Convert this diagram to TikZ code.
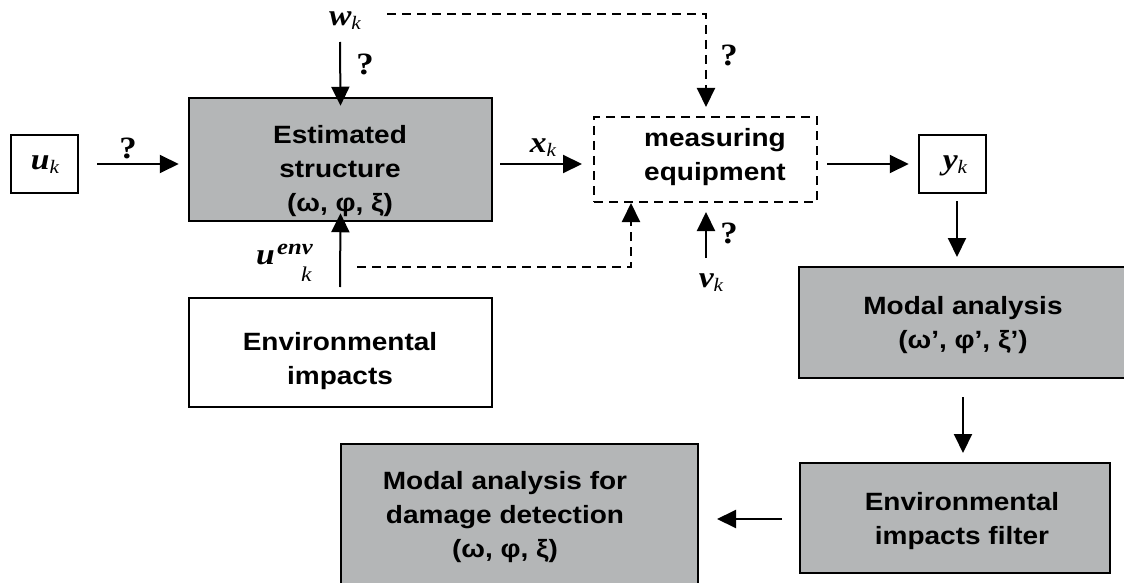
\documentclass[tikz,border=0pt]{standalone}
\usepackage{fontspec}
\setmainfont[FakeStretch=1.12]{Liberation Sans}
\newfontfamily\serf[FakeStretch=1.12]{Liberation Serif}
\usetikzlibrary{arrows.meta}
\definecolor{boxgray}{RGB}{180,182,183}
\tikzset{
  gbox/.style={draw, line width=2.5pt, fill=boxgray, inner sep=0pt},
  wbox/.style={draw, line width=2.5pt, fill=white, inner sep=0pt},
  dbox/.style={draw, line width=2pt, dash pattern=on 9pt off 6pt, inner sep=0pt},
  txt/.style={font=\fontsize{25}{34}\selectfont\bfseries, align=center, anchor=base, inner sep=0pt},
  arr/.style={line width=2pt, -{Triangle[length=19pt,width=18pt]}},
  darr/.style={arr, dash pattern=on 9pt off 6pt},
  lab/.style={font=\serf\bfseries\itshape\fontsize{30}{30}\selectfont, anchor=base, inner sep=0pt},
  qm/.style={font=\serf\bfseries\fontsize{31}{31}\selectfont, anchor=base, inner sep=0pt},
}
\newcommand{\subk}{\raisebox{-4pt}{\mdseries\fontsize{19}{19}\selectfont k}}
\begin{document}
\begin{tikzpicture}[x=1pt,y=-1pt]
\useasboundingbox (0,0) rectangle (1124,583);
\clip (0,0) rectangle (1124,583);
% boxes
\node[wbox, minimum width=67pt, minimum height=58pt] (uk) at (44.5,164) {};
\node[gbox, minimum width=303pt, minimum height=123pt] (est) at (340.5,159.5) {};
\node[wbox, minimum width=303pt, minimum height=109pt] (env) at (340.5,352.5) {};
\node[dbox, minimum width=223pt, minimum height=85pt] (meas) at (705.5,159.5) {};
\node[wbox, minimum width=67pt, minimum height=58pt] (yk) at (952.5,164) {};
\node[gbox, minimum width=336pt, minimum height=111pt] (modal) at (967,322.5) {};
\node[gbox, minimum width=310pt, minimum height=110pt] (filt) at (955,518) {};
\node[gbox, minimum width=357pt, minimum height=151pt] (dmg) at (519.5,519.5) {};
% texts (base anchor = baseline of last line)
\node[txt] (est-t) at (340,211) {Estimated\\structure\\(ω, φ, ξ)};
\node[txt] (env-t) at (340,384) {Environmental\\impacts};
\node[txt] (meas-t) at (715,180) {measuring\\equipment};
\node[txt] (modal-t) at (963,348) {Modal analysis\\(ω’, φ’, ξ’)};
\node[txt] (filt-t) at (962,544) {Environmental\\impacts filter};
\node[txt] (dmg-t) at (505,557) {Modal analysis for\\damage detection\\(ω, φ, ξ)};
% labels
\node[lab] (uk-t) at (45,169) {u\subk};
\node[lab] (wk) at (345,26) {w\subk};
\node[lab] (xk) at (543,153) {x\subk};
\node[lab] (yk-t) at (955,169) {y\subk};
\node[lab] (vk) at (711,287) {v\subk};
\node[lab, anchor=base west] (uenv) at (256,264) {u};
\node[lab, anchor=base west, font=\serf\bfseries\itshape\fontsize{22}{22}\selectfont] (uenv-e) at (277,254) {env};
\node[lab, anchor=base west, font=\serf\itshape\fontsize{21}{21}\selectfont] (uenv-k) at (301,281) {k};
\node[qm] (q1) at (128,158) {?};
\node[qm] (q2) at (365,75) {?};
\node[qm] (q3) at (729,66) {?};
\node[qm] (q4) at (729,243) {?};
% coordinates
\coordinate (wtop) at (387,14);
\coordinate (wcorner) at (706,14);
\coordinate (envL) at (357,267);
\coordinate (envC) at (631,267);
% connectors
\draw[arr] ([xshift=18pt]uk.east) -- ([xshift=-9pt]est.west |- uk.east);
\draw[arr] (340,42) -- ([yshift=-9pt]est.north);
\draw[arr] (340,287) -- ([yshift=9pt]est.south);
\draw[arr] ([xshift=7pt]est.east |- uk.east) -- ([xshift=-11pt]meas.west |- uk.east);
\draw[arr] ([xshift=9pt]meas.east |- uk.east) -- ([xshift=-9pt]yk.west);
\draw[arr] (957,201) -- (957,257);
\draw[arr] (963,397) -- (963,453);
\draw[arr] (782,519) -- (717,519);
\draw[arr] (706,258) -- (706,212);
\draw[darr] (wtop) -- (wcorner) -- (706,107);
\draw[darr] (envL) -- (envC) -- (631,203);
\end{tikzpicture}
\end{document}
